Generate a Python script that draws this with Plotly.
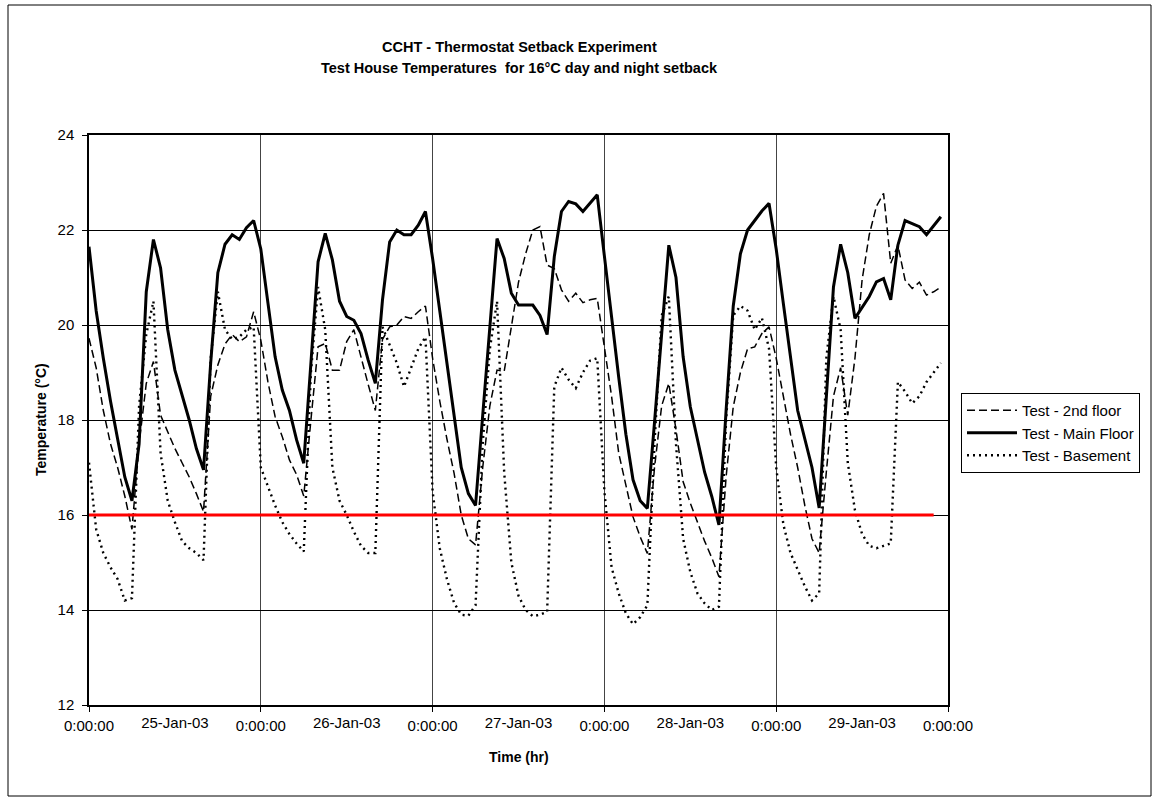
import pandas as pd
import plotly.graph_objects as go

# ---------------- data (hourly readings, 25-Jan-03 00:00 .. 29-Jan-03 23:00) ----------------
start_time = "2003-01-25 00:00"
n_hours = 120

second_floor = [
    19.72, 19.1, 18.2, 17.5, 17.0, 16.4, 15.7, 17.5, 18.77, 19.23,
    18.1, 17.75, 17.4, 17.1, 16.8, 16.45, 16.07, 18.5, 19.16, 19.6,
    19.8, 19.65, 19.75, 20.28, 19.68, 18.8, 18.07, 17.65, 17.16, 16.85,
    16.4, 18.0, 19.54, 19.61, 19.05, 19.05, 19.65, 19.9, 19.3, 18.75,
    18.2, 19.7, 19.96, 20.0, 20.18, 20.14, 20.28, 20.4, 19.3, 18.4,
    17.6, 16.88, 16.0, 15.5, 15.37, 17.0, 18.3, 19.05, 19.02, 20.0,
    20.9, 21.5, 22.0, 22.07, 21.26, 21.19, 20.74, 20.5, 20.67, 20.47,
    20.53, 20.56, 19.5, 18.5, 17.3, 16.6, 15.96, 15.54, 15.19, 17.0,
    18.3, 18.77, 17.8, 16.7, 16.25, 15.85, 15.45, 15.1, 14.7, 16.8,
    18.28, 19.0, 19.5, 19.54, 19.82, 19.96, 19.3, 18.5, 17.7, 17.0,
    16.2, 15.5, 15.2, 16.9, 18.5, 19.1, 18.1, 19.3, 20.95, 21.9,
    22.5, 22.77, 21.3, 21.68, 20.95, 20.77, 20.9, 20.63, 20.7, 20.8,
]

main_floor = [
    21.65, 20.3, 19.3, 18.4, 17.6, 16.8, 16.3, 17.5, 20.7, 21.8,
    21.2, 19.9, 19.05, 18.55, 18.0, 17.4, 16.95, 19.2, 21.1, 21.7,
    21.9, 21.8, 22.05, 22.2, 21.6, 20.46, 19.33, 18.63, 18.2, 17.58,
    17.09, 19.2, 21.33, 21.93, 21.37, 20.5, 20.18, 20.1, 19.82, 19.26,
    18.77, 20.53, 21.75, 22.0, 21.9, 21.9, 22.1, 22.39, 21.4, 20.3,
    19.2, 18.1, 17.0, 16.45, 16.2, 18.1, 20.0, 21.82, 21.4, 20.67,
    20.42, 20.42, 20.42, 20.2, 19.8, 21.44, 22.39, 22.6, 22.55, 22.39,
    22.56, 22.74, 21.45, 20.15, 18.9, 17.7, 16.74, 16.3, 16.14, 17.95,
    19.8, 21.68, 21.0, 19.33, 18.28, 17.58, 16.9, 16.39, 15.79, 18.2,
    20.4, 21.5, 22.0, 22.2, 22.4, 22.56, 21.6, 20.45, 19.3, 18.2,
    17.6, 17.0, 16.15, 18.5, 20.8, 21.7, 21.1, 20.14, 20.38, 20.6,
    20.91, 20.98, 20.53, 21.68, 22.2, 22.13, 22.07, 21.9, 22.1, 22.28,
]

basement = [
    17.1, 15.7, 15.2, 14.9, 14.65, 14.2, 14.25, 18.3, 19.8, 20.5,
    17.3, 16.3, 15.85, 15.45, 15.3, 15.2, 15.05, 19.3, 20.7, 19.9,
    19.7, 19.75, 19.9, 19.96, 17.0, 16.6, 16.2, 15.85, 15.6, 15.4,
    15.23, 19.0, 20.8, 19.9, 17.0, 16.3, 16.0, 15.65, 15.35, 15.2,
    15.2, 19.96, 19.6, 19.2, 18.7, 19.1, 19.5, 19.75, 16.5, 15.3,
    14.65, 14.15, 13.9, 13.88, 14.1, 17.5, 19.5, 20.5, 16.9, 15.0,
    14.3, 14.0, 13.87, 13.9, 13.96, 18.7, 19.1, 18.85, 18.67, 19.0,
    19.25, 19.3, 16.5, 14.9, 14.35, 13.93, 13.7, 13.85, 14.1, 17.5,
    20.2, 20.6, 17.5, 15.5, 14.8, 14.35, 14.14, 14.0, 14.07, 18.0,
    20.2, 20.4, 20.3, 19.9, 20.15, 19.5, 17.0, 15.8, 15.2, 14.85,
    14.5, 14.2, 14.35, 19.3, 20.6, 19.9, 17.1, 16.1, 15.6, 15.35,
    15.3, 15.35, 15.4, 18.8, 18.6, 18.35, 18.5, 18.8, 19.0, 19.2,
]

setpoint_times = ["2003-01-25 00:00", "2003-01-29 22:00"]
setpoint_values = [16, 16]

day_ticks = ["2003-01-25", "2003-01-26", "2003-01-27", "2003-01-28", "2003-01-29", "2003-01-30"]
day_labels = ["0:00:00"] * 6
noon_ticks = ["2003-01-25 12:00", "2003-01-26 12:00", "2003-01-27 12:00", "2003-01-28 12:00", "2003-01-29 12:00"]
noon_labels = ["25-Jan-03", "26-Jan-03", "27-Jan-03", "28-Jan-03", "29-Jan-03"]
y_ticks = [12, 14, 16, 18, 20, 22, 24]

times = pd.date_range(start_time, periods=n_hours, freq="h")

FONT = "Liberation Sans, Arial, sans-serif"

# plot area in pixels
L, R, T, B = 89, 948, 135, 705
W, H = 1159, 804


def px(x):
    return (x - L) / (R - L)


def py(y):
    return (B - y) / (B - T)


fig = go.Figure()
fig.add_trace(go.Scatter(x=times, y=second_floor, mode="lines", name="Test - 2nd floor",
                         line=dict(color="black", width=1.5, dash="8px,4px")))
fig.add_trace(go.Scatter(x=times, y=main_floor, mode="lines", name="Test - Main Floor",
                         line=dict(color="black", width=3)))
fig.add_trace(go.Scatter(x=times, y=basement, mode="lines", name="Test - Basement",
                         line=dict(color="black", width=2.4, dash="2px,4px")))
fig.add_trace(go.Scatter(x=setpoint_times, y=setpoint_values, mode="lines", showlegend=False,
                         xaxis="x2", line=dict(color="#FF0000", width=3)))

x_range = ["2003-01-25 00:00", "2003-01-30 00:00"]

fig.update_layout(
    width=W, height=H,
    margin=dict(l=L, r=W - R, t=T, b=H - B, pad=0),
    paper_bgcolor="white", plot_bgcolor="white",
    font=dict(family=FONT, size=15, color="black"),
    xaxis=dict(type="date", range=x_range, tickvals=day_ticks, ticktext=day_labels,
               showgrid=True, gridcolor="#444444", gridwidth=1,
               ticks="outside", ticklen=5, tickcolor="black",
               showline=True, linecolor="black", linewidth=1.5, mirror=True,
               tickfont=dict(size=15), zeroline=False, ticklabelstandoff=1),
    xaxis2=dict(type="date", range=x_range, overlaying="x", anchor="y", side="bottom",
                tickvals=noon_ticks, ticktext=noon_labels, ticks="", showgrid=False,
                showline=False, tickfont=dict(size=15), zeroline=False, ticklabelstandoff=7),
    yaxis=dict(range=[12, 24], tickvals=y_ticks, showgrid=True, gridcolor="#000000", gridwidth=1,
               ticks="outside", ticklen=5, tickcolor="black",
               showline=True, linecolor="black", linewidth=1.5, mirror=True,
               tickfont=dict(size=15), zeroline=False, ticklabelstandoff=5),
    legend=dict(x=px(961), y=py(393), xanchor="left", yanchor="top",
                bordercolor="black", borderwidth=1, bgcolor="white",
                font=dict(size=15), tracegroupgap=0, itemwidth=50),
    showlegend=True,
)

fig.add_annotation(text="<b>CCHT - Thermostat Setback Experiment</b>", xref="paper", yref="paper",
                   x=px(519), y=py(47), xanchor="center", yanchor="middle",
                   showarrow=False, font=dict(size=14.5))
fig.add_annotation(text="<b>Test House Temperatures  for 16°C day and night setback</b>", xref="paper",
                   yref="paper", x=px(519), y=py(68), xanchor="center", yanchor="middle",
                   showarrow=False, font=dict(size=14.5))
fig.add_annotation(text="<b>Temperature (°C)</b>", xref="paper", yref="paper",
                   x=px(41), y=py(420), xanchor="center", yanchor="middle",
                   textangle=-90, showarrow=False, font=dict(size=14))
fig.add_annotation(text="<b>Time (hr)</b>", xref="paper", yref="paper",
                   x=px(519), y=py(757), xanchor="center", yanchor="middle",
                   showarrow=False, font=dict(size=14))

fig.add_shape(type="rect", xref="paper", yref="paper",
              x0=px(8), x1=px(1151), y0=py(796), y1=py(5),
              line=dict(color="black", width=1), layer="below")

fig.write_html("out.html", config={"displayModeBar": False},
               post_script="document.body.style.margin='0';document.body.style.overflow='hidden';")
